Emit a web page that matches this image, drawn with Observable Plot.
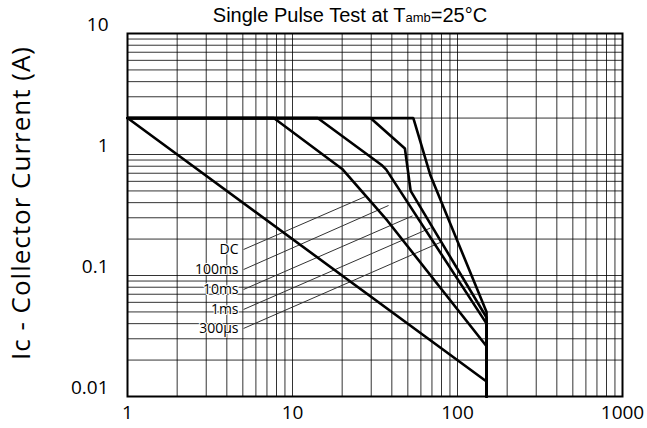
<!DOCTYPE html>
<html><head><meta charset="utf-8">
<script src="https://cdn.jsdelivr.net/npm/d3@7"></script>
<script src="https://cdn.jsdelivr.net/npm/@observablehq/plot@0.6"></script>
<style>body{margin:0;background:#fff} svg{display:block}</style>
</head><body><div id="chart"></div>
<script>
// ---- data ----
const xTicks = [1, 10, 100, 1000];
const yTicks = [0.01, 0.1, 1, 10];
const xGrid = [2,3,4,5,6,7,8,9,10,20,30,40,50,60,70,80,90,100,200,300,400,500,600,700,800,900];
const yGrid = [0.02,0.03,0.04,0.05,0.06,0.07,0.08,0.09,0.1,0.2,0.3,0.4,0.5,0.6,0.7,0.8,0.9,1,2,3,4,5,6,7,8,9];

// SOA curves: [Vce (V), Ic (A)]
const curveA = [[1,2],[150,0.0133],[150,0.01]];
const curveB = [[1,2],[7.7,2],[20,0.76],[37.5,0.285],[150,0.026],[150,0.01]];
const curveC = [[1,2],[14.2,2],[35,0.81],[37,0.75],[150,0.04],[150,0.01]];
const curveD = [[1,2],[29.7,2],[48,1.12],[52,0.5],[150,0.045],[150,0.01]];
const curveE = [[1,2],[54,2],[68.6,0.67],[150,0.05],[150,0.01]];

const labelNames = ["DC","100ms","10ms","1ms","300µs"];
const labelY = [0.164,0.112,0.0766,0.0524,0.0365];
const labelX = 5.05;
const leaderEndX = [27.7,38.2,53.4,68.6,78.9];
const leaderEndY = [0.45,0.379,0.311,0.247,0.188];

// ---- build tables ----
const curves = [curveA,curveB,curveC,curveD,curveE];
const curveRows = curves.flatMap((c,i)=>c.map(([v,a])=>({id:i,v,a})));
const leaders = labelNames.map((n,i)=>({n,x1:labelX,y1:labelY[i],x2:leaderEndX[i],y2:leaderEndY[i]}));

const chart = Plot.plot({
  width:647, height:428,
  marginLeft:127, marginRight:25, marginTop:33, marginBottom:32,
  style:{fontFamily:"'Open Sans', sans-serif", fontSize:"19px", color:"#000", background:"#fff"},
  x:{type:"log", domain:[1,1000]},
  y:{type:"log", domain:[0.01,10]},
  marks:[
    Plot.ruleX(xGrid,{stroke:"#000", strokeWidth:1, strokeOpacity:0.8}),
    Plot.ruleY(yGrid,{stroke:"#000", strokeWidth:1, strokeOpacity:0.8}),
    Plot.axisX({ticks:xTicks, tickFormat:d=>String(d), tickSize:0, tickPadding:9, label:null}),
    Plot.axisY({ticks:yTicks, tickFormat:d=>String(d), tickSize:0, tickPadding:19, label:null, dy:-9}),
    Plot.link(leaders,{x1:"x1",y1:"y1",x2:"x2",y2:"y2",stroke:"#333",strokeWidth:1}),
    Plot.text(leaders,{x:"x1",y:"y1",text:"n",textAnchor:"end",dx:-5,fontSize:14,fill:"#000",stroke:"#fff",strokeWidth:2,paintOrder:"stroke"}),
    Plot.line(curveRows,{x:"v",y:"a",z:"id",stroke:"#000",strokeWidth:2.6,strokeLinejoin:"miter"}),
    Plot.frame({stroke:"#000",strokeWidth:2})
  ]
});
const svg = d3.select(chart);
// title
const t = svg.append("text").attr("x",350).attr("y",22).attr("text-anchor","middle")
  .attr("font-family","'Liberation Sans', Arial, sans-serif").attr("font-size",20).attr("fill","#000");
t.append("tspan").text("Single Pulse Test at T");
t.append("tspan").attr("font-size",13).text("amb");
t.append("tspan").text("=25°C");
// y label
svg.append("text").attr("transform","translate(30,203) rotate(-90)").attr("text-anchor","middle")
  .attr("font-family","'Open Sans', sans-serif").attr("font-size",26).attr("letter-spacing","1px").attr("fill","#000")
  .text("Ic - Collector Current (A)");
document.getElementById("chart").appendChild(chart);
</script>
</body></html>
